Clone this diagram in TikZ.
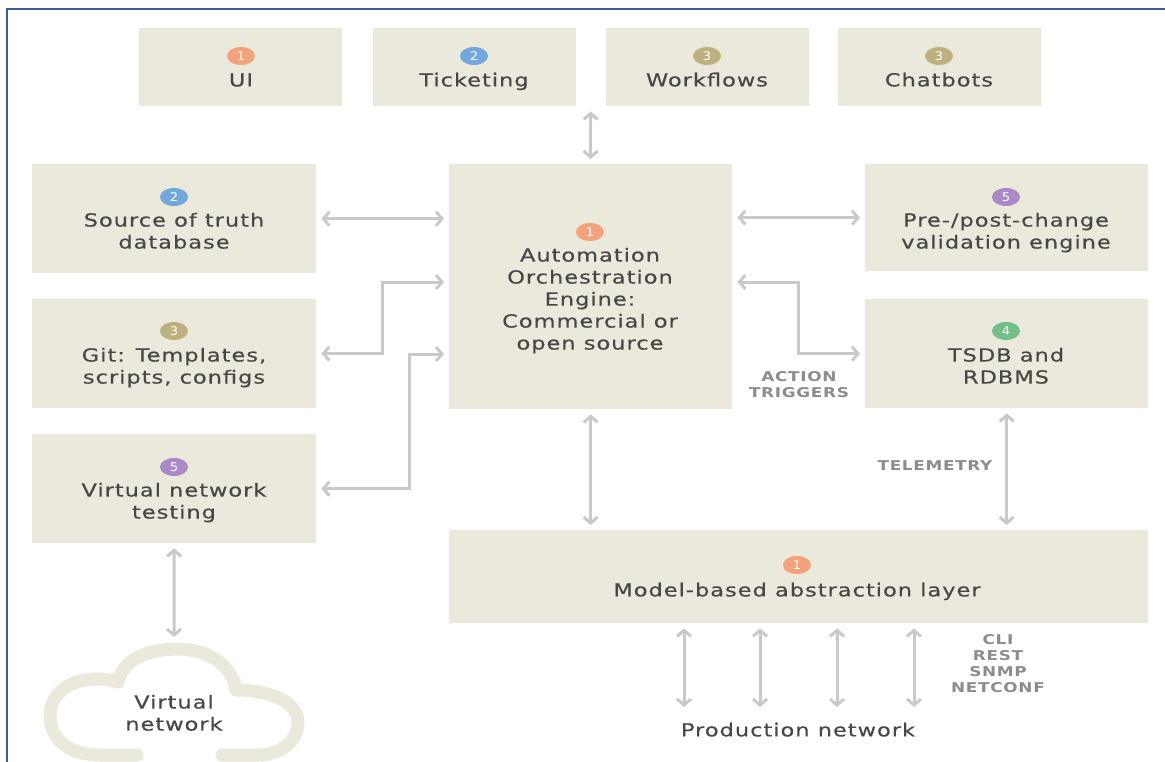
\documentclass[tikz,border=0pt]{standalone}
\usepackage{fontspec}
\setmainfont{DejaVu Sans}[FakeStretch=1.25, LetterSpace=5.5, FakeBold=0.4]
\newfontfamily\tagfont{DejaVu Sans}[FakeStretch=1.25, LetterSpace=5]
\newfontfamily\digitfont{DejaVu Sans}[FakeStretch=1.1]
\usetikzlibrary{arrows.meta,shapes.geometric}

\definecolor{boxfill}{HTML}{EBE8DC}
\definecolor{textdark}{HTML}{474747}
\definecolor{labelgray}{HTML}{8C8C8C}
\definecolor{arrowgray}{HTML}{C9C9CB}
\definecolor{framecol}{HTML}{3A5C98}
\definecolor{bOrange}{HTML}{F3A27B}
\definecolor{bBlue}{HTML}{74A7DB}
\definecolor{bTan}{HTML}{BDB27F}
\definecolor{bPurple}{HTML}{A98AC6}
\definecolor{bGreen}{HTML}{72BF88}

\tikzset{
  blk/.style={fill=boxfill, draw=none, anchor=north west, inner sep=0pt},
  lbl/.style={text=textdark, align=center, inner sep=0pt,
    font=\fontsize{18}{22}\selectfont,
    execute at begin node=\strut, execute at end node=\strut},
  tag/.style={text=labelgray, align=center, inner sep=0pt,
    font=\tagfont\bfseries\fontsize{13.5}{16}\selectfont,
    execute at begin node=\strut, execute at end node=\strut},
  badge/.style={ellipse, fill=#1, minimum width=28pt, minimum height=18pt,
    inner sep=0pt, text=white, font=\digitfont\fontsize{12}{12}\selectfont},
  dbl/.style={draw=arrowgray, line width=3pt,
    {Straight Barb[length=6pt,width=14pt]}-{Straight Barb[length=6pt,width=14pt]},
    shorten <=5pt, shorten >=5pt},
}

\begin{document}
\begin{tikzpicture}[x=1pt, y=-1pt]
\useasboundingbox (0,0) rectangle (1165,762);

% frame
\draw[framecol, line width=2.5pt] (7,770) -- (7,9) -- (1175,9);

% top row
\node[blk, minimum width=203pt, minimum height=78pt] (ui)  at (139,28) {};
\node[blk, minimum width=203pt, minimum height=78pt] (tkt) at (373,28) {};
\node[blk, minimum width=203pt, minimum height=78pt] (wf)  at (606,28) {};
\node[blk, minimum width=203pt, minimum height=78pt] (cb)  at (838,28) {};
\node[badge=bOrange] (uib) at (241,56) {1};
\node[lbl] (uit) at (241,82) {UI};
\node[badge=bBlue] (tktb) at (474,56) {2};
\node[lbl] (tktt) at (474,82) {Ticketing};
\node[badge=bTan] (wfb) at (707,56) {3};
\node[lbl] (wft) at (707,82) {Workflows};
\node[badge=bTan] (cbb) at (939,56) {3};
\node[lbl] (cbt) at (939,82) {Chatbots};

% left column
\node[blk, minimum width=284pt, minimum height=109pt] (src) at (32,164) {};
\node[blk, minimum width=284pt, minimum height=109pt] (git) at (32,299) {};
\node[blk, minimum width=284pt, minimum height=109pt] (vnt) at (32,434) {};
\node[badge=bBlue] (srcb) at (174,197) {2};
\node[lbl] (srct) at (174,234) {Source of truth\\database};
\node[badge=bTan] (gitb) at (174,331) {3};
\node[lbl] (gitt) at (174,369) {Git: Templates,\\scripts, configs};
\node[badge=bPurple] (vntb) at (174,467) {5};
\node[lbl] (vntt) at (174,504) {Virtual network\\testing};

% centre
\node[blk, minimum width=283pt, minimum height=245pt] (ctr) at (449,164) {};
\node[badge=bOrange] (ctrb) at (590,232) {1};
\node[lbl] (ctrt) at (590,302) {Automation\\Orchestration\\Engine:\\Commercial or\\open source};

% right column
\node[blk, minimum width=283pt, minimum height=107pt] (pre)  at (865,164) {};
\node[blk, minimum width=283pt, minimum height=109pt] (tsdb) at (865,299) {};
\node[badge=bPurple] (preb) at (1006,197) {5};
\node[lbl] (pret) at (1006,234) {Pre-/post-change\\validation engine};
\node[badge=bGreen] (tsdbb) at (1006,331) {4};
\node[lbl] (tsdbt) at (1006,369) {TSDB and\\RDBMS};

% abstraction layer
\node[blk, minimum width=699pt, minimum height=93pt] (mdl) at (449,530) {};
\node[badge=bOrange] (mdlb) at (797,565) {1};
\node[lbl] (mdlt) at (797,592) {Model-based abstraction layer};

% tags
\node[tag] (act) at (799,387) {ACTION\\TRIGGERS};
\node[tag] (tel) at (935,467) {TELEMETRY};
\node[tag] (proto) at (998,666) {CLI\\REST\\SNMP\\NETCONF};
\node[lbl] (prod) at (798,732) {Production network};

% cloud
\draw[boxfill, line width=13pt, line cap=round, line join=round]
  (137,755) -- (100,755)
  .. controls (70,755) and (50,740) .. (50,716)
  .. controls (50,693) and (70,679) .. (97,679)
  .. controls (105,679) and (112,680) .. (118,682)
  .. controls (122,661) and (146,649) .. (177,649)
  .. controls (208,649) and (232,665) .. (236,690)
  .. controls (272,690) and (298,703) .. (298,722)
  .. controls (298,742) and (280,755) .. (258,755)
  -- (222,755);
\coordinate (cloudtop) at (174,642);
\node[lbl] (cldt) at (174,716) {Virtual\\network};

% connectors
\draw[dbl] (ctr.north) -- (ctr.north |- ui.south);
\draw[dbl] (src.east) -- (src.east -| ctr.west);
\coordinate (gitbend) at (382,282);
\draw[dbl] (git.east) -| (gitbend) -- (gitbend -| ctr.west);
\coordinate (vntbend) at (409,354);
\draw[dbl] (vntbend -| ctr.west) -- (vntbend) |- (vnt.east);
\draw[dbl] (ctr.east |- pre.west) -- (pre.west);
\coordinate (tsdbbend) at (798,282);
\draw[dbl] (tsdbbend -| ctr.east) -- (tsdbbend) |- (tsdb.west);
\draw[dbl] (ctr.south) -- (ctr.south |- mdl.north);
\draw[dbl] (tsdb.south) -- (tsdb.south |- mdl.north);
\draw[dbl] (vnt.south) -- (cloudtop);
\foreach \px/\nm in {684/p1, 760/p2, 837/p3, 914/p4} {
  \coordinate (\nm) at (\px,712);
  \draw[dbl] (\nm |- mdl.south) -- (\nm);
}
\end{tikzpicture}
\end{document}
